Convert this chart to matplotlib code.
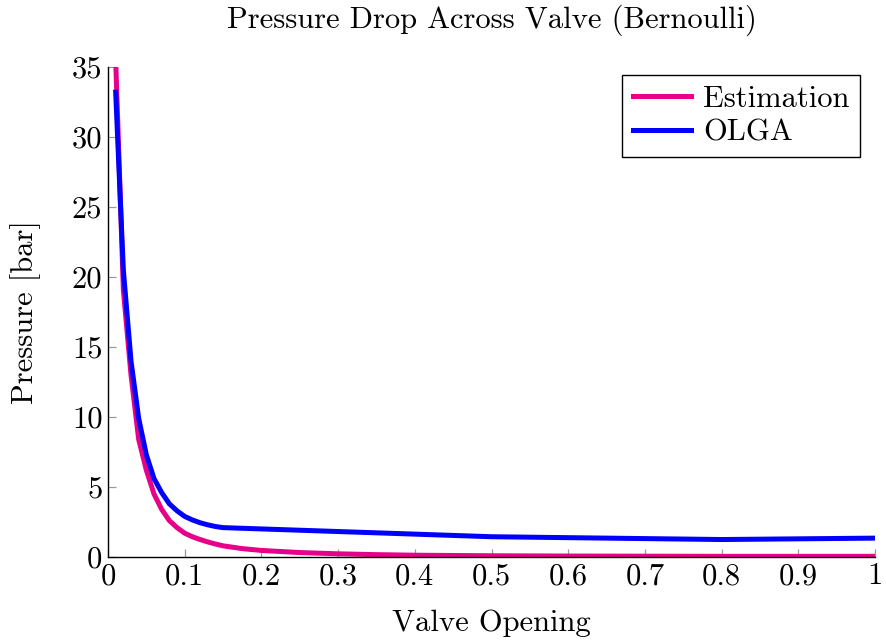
import numpy as np
import matplotlib.pyplot as plt

# font simile a Computer Modern (pgfplots)
plt.rcParams['font.family'] = 'serif'
plt.rcParams['font.serif'] = ['cmr10']
plt.rcParams['mathtext.fontset'] = 'cm'
plt.rcParams['axes.formatter.use_mathtext'] = True

# dati
x_est = [0.01, 0.02, 0.03, 0.04, 0.05, 0.06, 0.07, 0.08, 0.09, 0.1,
         0.11, 0.12, 0.13, 0.14, 0.15, 0.175, 0.2, 0.25, 0.3, 0.35, 0.4,
         0.5, 0.6, 0.7, 0.8, 0.9, 1.0]
p_est = [35.5, 19.1, 13.0, 8.4, 6.2, 4.5, 3.4, 2.6, 2.1, 1.7,
         1.45, 1.25, 1.08, 0.93, 0.8, 0.6, 0.47, 0.32, 0.23, 0.17, 0.13,
         0.09, 0.07, 0.06, 0.05, 0.05, 0.05]

x_olga = [0.01, 0.02, 0.03, 0.04, 0.05, 0.06, 0.07, 0.08, 0.09, 0.1,
          0.11, 0.12, 0.13, 0.14, 0.15, 0.5, 0.8, 1.0]
p_olga = [33.2, 20.5, 14.0, 9.9, 7.3, 5.6, 4.6, 3.8, 3.3, 2.9,
          2.65, 2.45, 2.3, 2.18, 2.1, 1.45, 1.25, 1.35]

fig = plt.figure(figsize=(8.86, 6.41), dpi=100)
ax = fig.add_axes([0.1219, 0.131, 0.8657, 0.7645])

ax.plot(x_est, p_est, color='#E6008A', lw=3.6, label='Estimation')
ax.plot(x_olga, p_olga, color='#0000FF', lw=3.6, label='OLGA')

ax.set_xlim(0, 1)
ax.set_ylim(0, 35)
ax.set_xticks(np.arange(0, 1.01, 0.1))
ax.set_xticklabels(['0', '0.1', '0.2', '0.3', '0.4', '0.5', '0.6', '0.7', '0.8', '0.9', '1'])
ax.set_yticks(np.arange(0, 36, 5))
ax.set_yticklabels([str(v) for v in range(0, 36, 5)])

ax.spines['top'].set_visible(False)
ax.spines['right'].set_visible(False)
ax.spines['left'].set_linewidth(1.0)
ax.spines['bottom'].set_linewidth(1.0)
ax.tick_params(direction='in', length=6, width=0.9, color='#999999',
               labelsize=22, pad=4)

ax.set_title('Pressure Drop Across Valve (Bernoulli)', fontsize=22, pad=28)
ax.set_xlabel('Valve Opening', fontsize=22, labelpad=14)
ax.set_ylabel('Pressure [bar]', fontsize=22, labelpad=22)

leg = ax.legend(loc='upper right', bbox_to_anchor=(0.991, 1.0), fontsize=22,
                frameon=True, fancybox=False, framealpha=1, edgecolor='black',
                borderpad=0.35, handlelength=1.9, handletextpad=0.4,
                labelspacing=0.2, borderaxespad=0.25)
leg.get_frame().set_linewidth(1.0)

fig.savefig('out.png', dpi=100)
